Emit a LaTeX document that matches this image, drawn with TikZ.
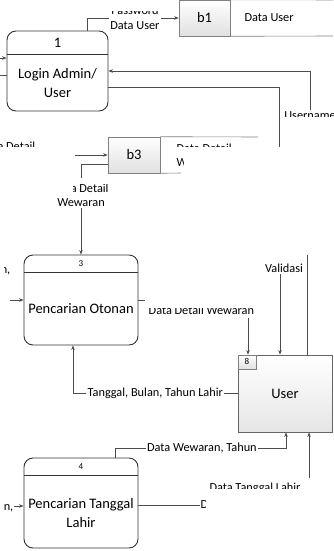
\documentclass[tikz,border=0pt]{standalone}
\usepackage{fontspec}
\setmainfont{Carlito}
\usetikzlibrary{arrows.meta, positioning, calc}

\newcommand{\lbfont}{\fontsize{12.3}{14.5}\selectfont}
\newcommand{\bigfont}{\fontsize{14.5}{19}\selectfont}
\newcommand{\idfont}{\fontsize{9}{10}\selectfont}

\begin{document}
\begin{tikzpicture}[x=1pt, y=-1pt,
  process/.style = {draw=black!80, line width=0.9pt, rounded corners=9pt, inner sep=0pt},
  header/.style = {draw=black!80, line width=0.9pt},
  idbox/.style = {draw=black!50, line width=0.6pt, top color=white, bottom color=black!12, inner sep=0pt},
  entity/.style = {draw=black!60, line width=0.8pt, top color=white, bottom color=black!10, inner sep=0pt},
  store/.style = {draw=black!50, line width=0.6pt},
  flow/.style = {draw=black!70, line width=0.6pt, -{Stealth[length=4.5pt, width=3.5pt]}},
  link/.style = {draw=black!70, line width=0.6pt},
  lbl/.style = {font=\lbfont, fill=white, inner sep=1.5pt, align=center},
  mask/.style = {fill=white, draw=none}
]
  \useasboundingbox (0,0) rectangle (333,551);

  % Processes
  \node[process, minimum width=101, minimum height=80] (p1) at (57.5,71) {};
  \draw[header] ([yshift=-24pt]p1.north west) -- ([yshift=-24pt]p1.north east);
  \node[font=\bigfont] (p1id) at (57.5,43) {1};
  \node[font=\bigfont, align=center] (p1txt) at (57.5,83) {Login Admin/\\User};

  \node[process, minimum width=114, minimum height=90] (p3) at (81,300) {};
  \draw[header] ([yshift=-18pt]p3.north west) -- ([yshift=-18pt]p3.north east);
  \node[font=\idfont] (p3id) at (81,264) {3};
  \node[font=\bigfont] (p3txt) at (81,309) {Pencarian Otonan};

  \node[process, minimum width=114, minimum height=90] (p4) at (81,503) {};
  \draw[header] ([yshift=-18pt]p4.north west) -- ([yshift=-18pt]p4.north east);
  \node[font=\idfont] (p4id) at (81,467) {4};
  \node[font=\bigfont, align=center] (p4txt) at (81,513) {Pencarian Tanggal\\Lahir};

  % Data stores
  \node[idbox, minimum width=51, minimum height=36, font=\bigfont] (b1) at (204.5,18) {b1};
  \draw[store] (b1.north east) -- (333,0);
  \draw[store] (b1.south east) -- (333,36);
  \node[font=\lbfont, anchor=west] (b1txt) at (241,18) {Data User};

  \node[idbox, minimum width=52, minimum height=36, font=\bigfont] (b3) at (134,155) {b3};
  \draw[store] (b3.north east) -- (258,137);
  \draw[store] (b3.south east) -- (181,173);
  \node[font=\lbfont, anchor=north west, align=left] (b3txt) at (173,140) {Data Detail\\Wewaran};

  % External entity
  \node[entity, minimum width=94, minimum height=77, font=\bigfont] (user) at (285,393.5) {User};
  \node[idbox, minimum width=18, minimum height=14, font=\idfont, anchor=north west] (uid) at (user.north west) {8};

  % Flows around Login
  \coordinate (in1a) at (0,58);
  \coordinate (in1b) at (0,75);
  \draw[flow] (in1a) -- (in1a -| p1.west);
  \draw[link] (in1b) -- (in1b -| p1.west);
  \draw[flow] ([xshift=30pt]p1.north) |- node[lbl, pos=0.76] {Password\\Data User} (b1.west);
  \coordinate (usr1) at (310,110);
  \draw[flow] (usr1) |- (p1.east);
  \node[lbl] (uname) at (310,116) {Username};
  \coordinate (p1out) at (279,147);
  \draw[link] ([yshift=-16pt]p1.east) -| (p1out);

  % Flows around b3
  \node[lbl, anchor=east] (dd1) at (37,146) {Data Detail};
  \coordinate (b3in) at (75,155);
  \draw[flow] (b3in) -- (b3.west);
  \draw[flow] ([yshift=-9pt]b3.west) -| node[lbl, pos=0.673] {Data Detail\\Wewaran} (p3.north);

  % Flows around Pencarian Otonan
  \node[lbl, anchor=east] (frag3) at (12,271) {n,};
  \coordinate (p3in) at (10,300);
  \draw[flow] (p3in) -- (p3in -| p3.west);
  \coordinate (p3out) at (146,300);
  \draw[link] (p3.east) -- (p3out);
  \node[lbl, anchor=west] (ddw) at (147,310) {Data Detail Wewaran};
  \coordinate (ddwin) at (248,318);
  \draw[flow] (ddwin) -- (ddwin |- user.north);
  \node[lbl] (val) at (284,268) {Validasi};
  \draw[flow] ([xshift=-4pt]val.south) -- ([xshift=-4pt]val.south |- user.north);
  \coordinate (usrtop) at (307,255);
  \draw[link] (usrtop |- user.north) -- (usrtop);
  \draw[flow] (user.west) -| node[lbl, pos=0.25] {Tanggal, Bulan, Tahun Lahir} ([xshift=-8pt]p3.south);

  % Flows around Pencarian Tanggal Lahir
  \node[lbl, anchor=east] (frag4) at (15,508) {n,};
  \coordinate (p4in) at (14,506);
  \draw[flow] (p4in) -- (p4in -| p4.west);
  \coordinate (dwt) at (286,448);
  \draw[flow] ([xshift=34pt]p4.north) |- node[lbl, pos=0.754] {Data Wewaran, Tahun} (dwt) -- (dwt |- user.south);
  \coordinate (dtl) at (309,478);
  \draw[flow] (dtl) -- (dtl |- user.south);
  \node[lbl] (dtltxt) at (255,488) {Data Tanggal Lahir};
  \coordinate (p4out) at (200,505);
  \draw[link] ([yshift=-2pt]p4.east) -- (p4out);
  \node[lbl, anchor=west, inner sep=0.5pt] (dtl2) at (p4out) {Data Tanggal Lahir};

  % Blank patches
  \fill[mask] (100,-1) rectangle (172,11);
  \fill[mask] (280,117) rectangle (334,200);
  \fill[mask] (0,147) rectangle (50,165);
  \fill[mask] (184,147) rectangle (278,185);
  \fill[mask] (172,147) rectangle (184,157);
  \fill[mask] (40,178) rectangle (120,184);
  \fill[mask] (40,178) rectangle (73,196);
  \fill[mask] (0,260) rectangle (4,282);
  \fill[mask] (145,288) rectangle (270,308);
  \fill[mask] (0,500) rectangle (4,515);
  \fill[mask] (206,489) rectangle (334,552);
\end{tikzpicture}
\end{document}
